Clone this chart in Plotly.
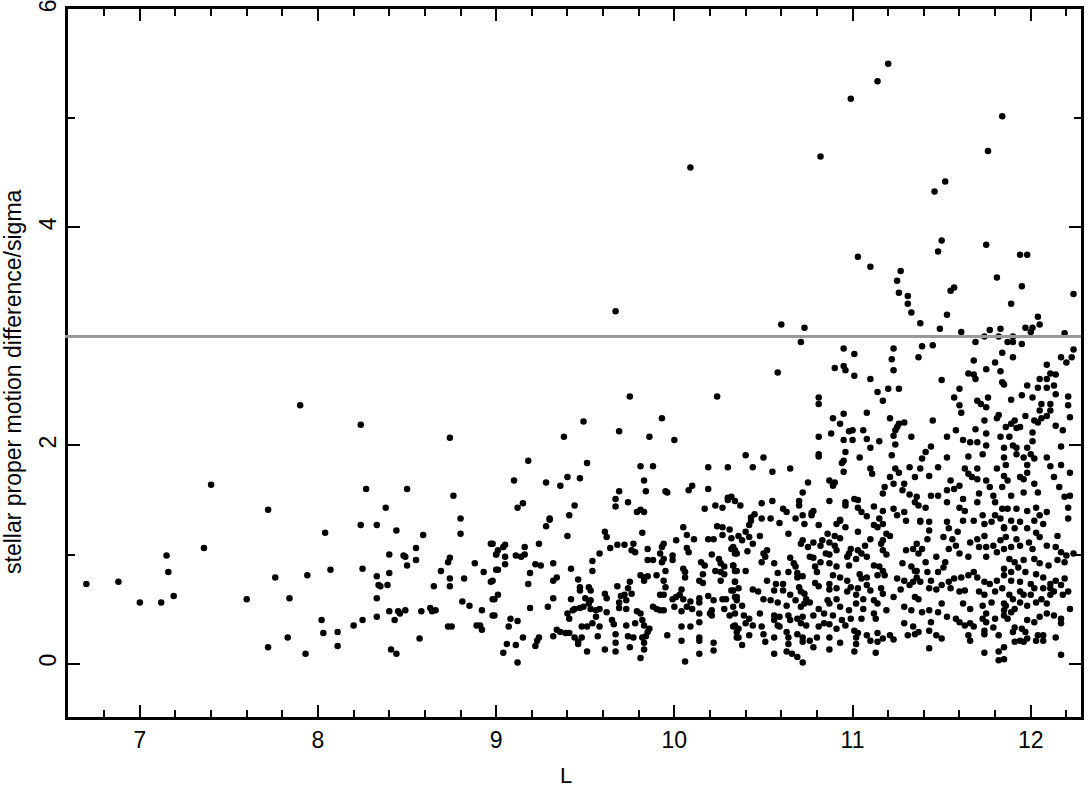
import plotly.graph_objects as go

# stars, grouped by region: (L, proper motion difference / sigma)
west = [
    (6.70, 0.73), (6.88, 0.75), (7.00, 0.56), (7.12, 0.56), (7.15, 0.99), (7.16, 0.84), (7.19, 0.62),
    (7.36, 1.06), (7.40, 1.64), (7.60, 0.59), (7.72, 1.41), (7.72, 0.15), (7.76, 0.79), (7.83, 0.24),
    (7.84, 0.60), (7.90, 2.37), (7.93, 0.09), (7.94, 0.81), (8.02, 0.40), (8.03, 0.28), (8.04, 1.20),
    (8.07, 0.86), (8.11, 0.16), (8.11, 0.29), (8.20, 0.35), (8.24, 2.19), (8.24, 1.27), (8.25, 0.87),
    (8.25, 0.40), (8.27, 1.60), (8.33, 1.27), (8.33, 0.60), (8.33, 0.43), (8.33, 0.80), (8.34, 0.72),
    (8.35, 0.71), (8.38, 1.43), (8.39, 0.72), (8.40, 1.00), (8.40, 0.83), (8.40, 0.48), (8.41, 0.13),
    (8.43, 0.40), (8.44, 1.22), (8.44, 0.09), (8.45, 0.48), (8.46, 0.46), (8.48, 0.99), (8.49, 0.98),
    (8.49, 0.49), (8.50, 1.60), (8.50, 0.90), (8.55, 1.06), (8.55, 0.95), (8.57, 0.23), (8.58, 0.48),
    (8.59, 1.18), (8.63, 0.51), (8.64, 0.48), (8.66, 0.49), (8.65, 0.71), (8.69, 0.85), (8.73, 0.34),
    (8.75, 0.34), (8.73, 0.93), (8.74, 0.97), (8.74, 0.78), (8.74, 0.71), (8.74, 2.07), (8.76, 1.54),
    (8.80, 1.19), (8.80, 1.33), (8.81, 0.57), (8.82, 0.78), (8.85, 0.53), (8.88, 0.92), (8.89, 0.35),
    (8.91, 0.35), (8.92, 0.31), (8.92, 0.49), (8.93, 0.84), (8.97, 1.10), (8.97, 0.75), (8.98, 0.59),
    (8.98, 0.44), (9.00, 0.86), (9.00, 1.00),
]

middle_upper = [
    (9.67, 3.23), (10.60, 3.11), (10.73, 3.08), (10.71, 2.95), (10.95, 2.89), (10.58, 2.67), (10.90, 2.71),
    (10.95, 2.73), (10.96, 2.69), (9.75, 2.45), (10.24, 2.45), (10.81, 2.44), (10.81, 2.38), (9.93, 2.25),
    (9.49, 2.22), (10.89, 2.25), (10.93, 2.20), (10.95, 2.29), (10.98, 2.13), (9.69, 2.13), (9.86, 2.08),
    (9.38, 2.08), (10.00, 2.05), (10.81, 2.08), (10.88, 2.11), (10.95, 2.05), (9.18, 1.86), (9.51, 1.84),
    (10.40, 1.91), (10.50, 1.89), (10.81, 1.90), (10.81, 1.92), (10.96, 1.94), (10.94, 1.84), (10.95, 1.86),
    (9.81, 1.81), (9.88, 1.81), (10.19, 1.80), (10.30, 1.80), (10.44, 1.80), (10.65, 1.79), (10.55, 1.76),
    (10.95, 1.76), (9.10, 1.68), (9.28, 1.66), (9.40, 1.71), (9.36, 1.63), (9.47, 1.70), (9.83, 1.68),
    (10.75, 1.66), (10.87, 1.68), (10.89, 1.65), (10.90, 1.66), (10.89, 1.63), (9.69, 1.58), (9.84, 1.58),
    (9.95, 1.58), (9.96, 1.57), (10.08, 1.59), (10.10, 1.63), (10.19, 1.60), (10.72, 1.57), (9.67, 1.51),
    (9.67, 1.44), (9.74, 1.48), (9.12, 1.43), (9.15, 1.47), (9.44, 1.45), (9.41, 1.36), (9.30, 1.33),
    (9.79, 1.39), (9.81, 1.41), (9.83, 1.39), (10.17, 1.42), (10.23, 1.45), (10.27, 1.43), (10.30, 1.52),
    (10.32, 1.53), (10.30, 1.50), (10.34, 1.49), (10.37, 1.45), (10.49, 1.47), (10.55, 1.49), (10.61, 1.42),
    (10.63, 1.39), (10.70, 1.49), (10.70, 1.45), (10.78, 1.40), (10.77, 1.38), (10.87, 1.49), (10.96, 1.45),
    (10.96, 1.48), (10.45, 1.37), (10.43, 1.34), (10.49, 1.33), (10.54, 1.33), (10.68, 1.33), (10.72, 1.36),
    (10.77, 1.36), (10.93, 1.32),
]

middle_lower = [
    (9.30, 1.32), (9.28, 1.26), (9.40, 1.17), (9.61, 1.21), (9.62, 1.16), (9.82, 1.20), (10.05, 1.25),
    (10.07, 1.18), (10.24, 1.26), (10.27, 1.25), (10.31, 1.23), (10.27, 1.18), (10.32, 1.15), (10.36, 1.17),
    (10.11, 1.14), (10.19, 1.14), (10.22, 1.14), (10.01, 1.13), (8.98, 1.10), (9.05, 1.09), (9.04, 1.07),
    (9.01, 1.04), (9.24, 1.10), (9.16, 1.07), (9.68, 1.09), (9.72, 1.09), (9.77, 1.10), (9.64, 1.06),
    (9.76, 1.04), (9.78, 1.02), (9.85, 1.05), (9.94, 1.10), (9.93, 1.07), (10.07, 1.06), (10.08, 1.02),
    (10.32, 1.05), (10.34, 1.04), (10.35, 1.01), (9.58, 1.01), (9.00, 1.00), (9.05, 0.98), (9.11, 0.99),
    (9.14, 0.98), (9.16, 1.00), (9.92, 1.01), (9.99, 0.99), (10.21, 1.00), (9.85, 0.95), (9.88, 0.95),
    (9.94, 0.96), (9.99, 0.95), (9.93, 0.93), (10.15, 0.93), (10.17, 0.90), (10.25, 0.96), (10.26, 0.92),
    (10.28, 0.89), (9.54, 0.94), (9.32, 0.92), (9.05, 0.91), (9.22, 0.91), (9.25, 0.90), (9.01, 0.86),
    (9.42, 0.87), (9.54, 0.85), (10.05, 0.87), (10.06, 0.84), (9.95, 0.85), (10.33, 0.90), (10.35, 0.85),
    (10.23, 0.85), (10.26, 0.84), (10.28, 0.82), (9.19, 0.83), (9.81, 0.81), (9.83, 0.79), (9.85, 0.80),
    (9.90, 0.81), (10.06, 0.79), (10.16, 0.82), (10.14, 0.76), (8.98, 0.76), (9.32, 0.76), (9.34, 0.79),
    (9.46, 0.77), (9.75, 0.75), (9.83, 0.76), (9.94, 0.76), (10.26, 0.76), (10.34, 0.75), (9.18, 0.73),
    (9.68, 0.71), (9.74, 0.69), (9.47, 0.70), (9.52, 0.70), (9.53, 0.67), (9.47, 0.67), (9.95, 0.70),
    (10.04, 0.68), (10.16, 0.74), (10.32, 0.67), (10.36, 0.69), (9.01, 0.63), (8.99, 0.59), (9.32, 0.60),
    (9.42, 0.59), (9.50, 0.60), (9.53, 0.58), (9.61, 0.64), (9.62, 0.60), (9.70, 0.62), (9.72, 0.63),
    (9.76, 0.64), (9.69, 0.56), (9.73, 0.58), (9.92, 0.63), (9.94, 0.63), (9.99, 0.59), (10.01, 0.61),
    (10.03, 0.63), (10.05, 0.59), (10.09, 0.57), (10.14, 0.60), (10.14, 0.56), (10.19, 0.62), (10.22, 0.58),
    (10.27, 0.59), (10.29, 0.59), (10.34, 0.61), (10.35, 0.58), (9.19, 0.51), (9.29, 0.52), (9.44, 0.50),
    (9.47, 0.51), (9.49, 0.52), (9.52, 0.55), (9.53, 0.50), (9.56, 0.49), (9.58, 0.50), (9.62, 0.47),
    (9.69, 0.51), (9.73, 0.50), (9.79, 0.48), (9.88, 0.52), (9.90, 0.50), (9.92, 0.49), (9.94, 0.49),
    (10.00, 0.52), (10.04, 0.48), (10.07, 0.52), (10.10, 0.50), (10.14, 0.46), (10.20, 0.46), (10.21, 0.49),
    (10.28, 0.50), (10.31, 0.44), (8.99, 0.44), (9.08, 0.41), (9.12, 0.39), (9.40, 0.46), (9.41, 0.41),
    (9.43, 0.49), (9.56, 0.43), (9.65, 0.40), (9.66, 0.36), (9.81, 0.46), (9.82, 0.40), (9.73, 0.35),
    (9.78, 0.37), (9.83, 0.35), (9.54, 0.37), (9.48, 0.34), (9.51, 0.34), (9.58, 0.34), (10.04, 0.34),
    (10.09, 0.34), (10.14, 0.38), (10.21, 0.44), (10.34, 0.35), (10.36, 0.32), (9.07, 0.34), (9.34, 0.31),
    (9.36, 0.29), (9.39, 0.28), (9.41, 0.28), (9.86, 0.32), (9.85, 0.29), (9.15, 0.24), (9.24, 0.24),
    (9.23, 0.21), (9.32, 0.25), (9.44, 0.24), (9.46, 0.20), (9.48, 0.24), (9.46, 0.18), (9.57, 0.25),
    (9.67, 0.27), (9.74, 0.25), (9.77, 0.24), (9.82, 0.24), (9.84, 0.25), (9.96, 0.26), (10.04, 0.21),
    (10.14, 0.24), (10.35, 0.24), (9.06, 0.18), (9.11, 0.17), (9.22, 0.16), (9.67, 0.19), (9.75, 0.15),
    (9.83, 0.19), (9.61, 0.13), (9.67, 0.11), (9.83, 0.13), (10.14, 0.21), (10.22, 0.19), (10.22, 0.12),
    (9.04, 0.10), (9.51, 0.11), (9.81, 0.05), (10.14, 0.09), (9.12, 0.01), (10.06, 0.02),
]

centre_lower = [
    (11.03, 1.43), (11.05, 1.39), (11.12, 1.44), (11.17, 1.40), (11.23, 1.42), (11.29, 1.39), (11.25, 1.36),
    (11.35, 1.48), (11.37, 1.45), (11.08, 1.35), (11.15, 1.33), (11.30, 1.31), (10.43, 1.31), (10.93, 1.31),
    (10.42, 1.27), (10.40, 1.21), (10.42, 1.16), (10.48, 1.17), (10.59, 1.29), (10.64, 1.19), (10.73, 1.28),
    (10.81, 1.27), (10.91, 1.28), (10.96, 1.25), (11.03, 1.21), (11.12, 1.27), (11.14, 1.25), (11.17, 1.28),
    (11.19, 1.19), (11.21, 1.17), (11.38, 1.30), (10.86, 1.19), (10.90, 1.17), (10.93, 1.15), (10.72, 1.13),
    (10.71, 1.10), (10.38, 1.13), (10.44, 1.10), (10.78, 1.11), (10.83, 1.13), (10.87, 1.11), (11.10, 1.14),
    (11.17, 1.13), (10.33, 1.07), (10.34, 1.01), (10.41, 1.03), (10.50, 1.01), (10.52, 1.04), (10.51, 0.98),
    (10.75, 1.07), (10.82, 1.08), (10.90, 1.08), (10.91, 1.04), (10.85, 1.01), (10.87, 1.00), (10.78, 0.97),
    (10.99, 1.05), (10.98, 1.01), (11.03, 1.04), (11.05, 1.01), (11.07, 1.08), (11.08, 0.98), (11.16, 1.10),
    (11.17, 1.04), (11.19, 1.00), (11.30, 1.04), (11.34, 1.05), (11.37, 1.01), (10.49, 0.93), (10.56, 0.92),
    (10.65, 0.97), (10.76, 0.98), (10.97, 0.98), (11.02, 0.96), (10.33, 0.90), (10.34, 0.85), (10.40, 0.85),
    (10.67, 0.92), (10.68, 0.89), (10.82, 0.93), (10.79, 0.89), (10.87, 0.92), (10.91, 0.89), (10.98, 0.90),
    (11.12, 0.90), (11.15, 0.89), (11.17, 0.85), (11.28, 0.92), (11.33, 0.89), (11.35, 0.85), (11.36, 0.79),
    (10.58, 0.83), (10.64, 0.84), (10.69, 0.83), (10.69, 0.79), (10.72, 0.80), (10.80, 0.84), (10.89, 0.81),
    (10.93, 0.79), (10.97, 0.76), (11.04, 0.82), (11.05, 0.78), (11.08, 0.79), (11.14, 0.81), (11.18, 0.81),
    (11.25, 0.78), (11.29, 0.76), (11.34, 0.75), (10.34, 0.75), (10.52, 0.76), (10.57, 0.73), (10.61, 0.73),
    (10.33, 0.67), (10.44, 0.68), (10.47, 0.66), (10.56, 0.67), (10.61, 0.67), (10.70, 0.70), (10.71, 0.66),
    (10.73, 0.64), (10.79, 0.74), (10.81, 0.71), (10.87, 0.73), (10.87, 0.68), (10.91, 0.69), (10.97, 0.66),
    (10.99, 0.70), (11.03, 0.69), (11.08, 0.72), (11.10, 0.67), (11.16, 0.69), (11.17, 0.64), (11.23, 0.61),
    (11.27, 0.68), (11.32, 0.72), (11.35, 0.61), (10.35, 0.61), (10.50, 0.59), (10.54, 0.58), (10.65, 0.63),
    (10.68, 0.58), (10.74, 0.59), (10.76, 0.56), (10.86, 0.58), (10.91, 0.59), (11.02, 0.63), (11.06, 0.59),
    (11.12, 0.58), (11.14, 0.55), (10.33, 0.52), (10.38, 0.53), (10.34, 0.46), (10.58, 0.56), (10.63, 0.53),
    (10.71, 0.52), (10.73, 0.55), (10.81, 0.50), (10.87, 0.55), (10.93, 0.52), (10.98, 0.49), (11.02, 0.55),
    (11.06, 0.50), (11.12, 0.46), (11.19, 0.49), (11.29, 0.52), (11.33, 0.49), (10.39, 0.44), (10.42, 0.41),
    (10.48, 0.46), (10.56, 0.44), (10.59, 0.43), (10.64, 0.44), (10.65, 0.40), (10.69, 0.41), (10.72, 0.43),
    (10.78, 0.44), (10.84, 0.46), (10.89, 0.44), (10.94, 0.40), (10.99, 0.41), (11.05, 0.41), (11.13, 0.41),
    (10.33, 0.34), (10.35, 0.29), (10.40, 0.37), (10.44, 0.35), (10.49, 0.34), (10.56, 0.40), (10.58, 0.35),
    (10.59, 0.34), (10.63, 0.29), (10.71, 0.37), (10.74, 0.35), (10.81, 0.34), (10.84, 0.37), (10.87, 0.36),
    (10.91, 0.32), (10.96, 0.35), (11.01, 0.30), (11.03, 0.28), (11.08, 0.26), (11.14, 0.28), (11.21, 0.26),
    (11.29, 0.37), (11.34, 0.34), (11.35, 0.27), (11.31, 0.26), (10.36, 0.24), (10.42, 0.26), (10.50, 0.27),
    (10.56, 0.24), (10.64, 0.24), (10.69, 0.27), (10.72, 0.24), (10.76, 0.21), (10.80, 0.24), (10.87, 0.24),
    (11.02, 0.24), (11.10, 0.21), (11.17, 0.23), (11.23, 0.22), (10.38, 0.17), (10.51, 0.20), (10.64, 0.18),
    (10.72, 0.20), (10.78, 0.15), (10.87, 0.13), (10.93, 0.19), (11.02, 0.18), (11.14, 0.20), (10.56, 0.09),
    (10.63, 0.11), (10.66, 0.09), (10.69, 0.06), (11.01, 0.11), (11.13, 0.10), (10.72, 0.01),
]

east_upper = [
    (11.01, 2.84), (11.23, 2.89), (11.39, 2.91), (11.45, 2.92), (11.69, 2.95), (11.87, 2.95), (11.90, 2.95),
    (11.95, 2.93), (11.22, 2.79), (11.37, 2.81), (11.68, 2.78), (11.80, 2.76), (11.84, 2.85), (11.90, 2.81),
    (12.17, 2.81), (12.20, 2.76), (12.23, 2.81), (12.24, 2.88), (11.23, 2.69), (11.01, 2.64), (11.10, 2.61),
    (11.50, 2.60), (11.65, 2.66), (11.68, 2.65), (11.69, 2.61), (11.75, 2.70), (11.83, 2.68), (11.84, 2.58),
    (11.85, 2.56), (12.09, 2.74), (12.05, 2.61), (12.09, 2.61), (12.11, 2.66), (12.14, 2.65), (11.14, 2.49),
    (11.20, 2.52), (11.26, 2.52), (11.17, 2.41), (11.60, 2.52), (11.57, 2.44), (11.70, 2.41), (11.72, 2.38),
    (11.75, 2.35), (11.76, 2.44), (11.89, 2.42), (11.95, 2.46), (12.01, 2.44), (11.98, 2.55), (12.04, 2.53),
    (12.09, 2.53), (12.13, 2.55), (12.14, 2.47), (12.21, 2.45), (12.21, 2.37), (12.06, 2.38), (12.11, 2.38),
    (12.05, 2.32), (12.11, 2.32), (12.09, 2.27), (11.08, 2.30), (11.60, 2.37), (11.61, 2.30), (11.82, 2.28),
    (11.81, 2.25), (11.21, 2.25), (11.26, 2.20), (11.29, 2.21), (11.25, 2.17), (11.24, 2.14), (11.45, 2.23),
    (11.74, 2.23), (11.86, 2.17), (11.89, 2.20), (11.91, 2.23), (11.92, 2.16), (11.94, 2.17), (11.97, 2.27),
    (12.02, 2.23), (12.04, 2.21), (12.06, 2.25), (12.14, 2.18), (12.18, 2.14), (12.22, 2.26), (11.00, 2.14),
    (11.06, 2.14), (11.00, 2.05), (11.08, 2.06), (11.10, 1.98), (11.15, 2.04), (11.23, 2.09), (11.24, 2.01),
    (11.33, 2.08), (11.53, 2.08), (11.58, 2.14), (11.69, 2.15), (11.75, 2.11), (11.62, 2.05), (11.66, 2.03),
    (11.70, 2.03), (11.75, 2.00), (11.83, 2.08), (11.88, 2.08), (12.01, 2.12), (12.01, 2.04), (11.85, 1.98),
    (11.90, 2.00), (11.92, 1.98), (11.98, 1.98), (12.00, 1.92), (12.17, 1.99), (11.04, 1.89), (11.22, 1.91),
    (11.44, 1.99), (11.41, 1.94), (11.39, 1.88), (11.53, 1.89), (11.65, 1.90), (11.73, 1.92), (11.85, 1.89),
    (11.92, 1.92), (11.96, 1.89), (12.02, 1.88), (12.09, 1.89), (11.86, 1.82), (11.10, 1.79), (11.11, 1.74),
    (11.24, 1.79), (11.26, 1.75), (11.32, 1.80), (11.38, 1.79), (11.35, 1.71), (11.48, 1.80), (11.43, 1.72),
    (11.63, 1.79), (11.70, 1.79), (11.81, 1.79), (11.98, 1.82), (11.98, 1.75), (12.11, 1.81), (12.17, 1.82),
    (12.22, 1.75), (11.21, 1.71), (11.18, 1.62), (11.23, 1.65), (11.29, 1.65), (11.32, 1.55), (11.17, 1.56),
    (11.28, 1.59), (11.44, 1.54), (11.48, 1.54), (11.36, 1.53), (11.55, 1.68), (11.57, 1.60), (11.53, 1.59),
    (11.60, 1.63), (11.65, 1.74), (11.67, 1.71), (11.70, 1.69), (11.75, 1.68), (11.77, 1.62), (11.85, 1.72),
    (11.87, 1.68), (11.84, 1.62), (11.94, 1.71), (11.96, 1.69), (11.96, 1.57), (12.02, 1.65), (12.04, 1.57),
    (12.13, 1.71), (12.16, 1.62), (12.19, 1.53), (12.22, 1.54), (11.01, 1.51), (11.03, 1.50), (11.71, 1.56),
    (11.79, 1.54), (11.89, 1.54), (11.62, 1.51),
]

east_lower = [
    (11.53, 1.48), (11.60, 1.43), (11.63, 1.40), (11.70, 1.48), (11.80, 1.48), (11.84, 1.42), (11.41, 1.43),
    (11.38, 1.31), (11.43, 1.30), (11.43, 1.22), (11.53, 1.30), (11.54, 1.24), (11.59, 1.21), (11.62, 1.31),
    (11.68, 1.31), (11.73, 1.36), (11.74, 1.28), (11.78, 1.30), (11.80, 1.36), (11.83, 1.33), (11.85, 1.24),
    (11.51, 1.16), (11.56, 1.14), (11.58, 1.08), (11.66, 1.11), (11.70, 1.14), (11.74, 1.17), (11.75, 1.07),
    (11.79, 1.08), (11.83, 1.13), (11.36, 1.10), (11.39, 1.05), (11.42, 1.14), (11.54, 1.05), (11.60, 1.01),
    (11.65, 0.98), (11.71, 1.07), (11.75, 0.98), (11.81, 1.02), (11.47, 0.98), (11.52, 0.93), (11.51, 0.88),
    (11.41, 0.93), (11.42, 0.84), (11.36, 0.85), (11.38, 0.75), (11.44, 0.76), (11.48, 0.84), (11.43, 0.69),
    (11.47, 0.68), (11.54, 0.75), (11.57, 0.78), (11.61, 0.79), (11.65, 0.81), (11.68, 0.84), (11.70, 0.79),
    (11.74, 0.75), (11.77, 0.73), (11.81, 0.76), (11.85, 0.81), (11.37, 0.59), (11.50, 0.72), (11.55, 0.69),
    (11.60, 0.66), (11.63, 0.67), (11.71, 0.66), (11.74, 0.63), (11.80, 0.66), (11.84, 0.69), (11.50, 0.55),
    (11.62, 0.55), (11.66, 0.50), (11.73, 0.53), (11.75, 0.46), (11.78, 0.56), (11.85, 0.55), (11.39, 0.47),
    (11.43, 0.49), (11.48, 0.47), (11.53, 0.43), (11.58, 0.41), (11.60, 0.38), (11.66, 0.37), (11.73, 0.41),
    (11.75, 0.38), (11.80, 0.41), (11.85, 0.44), (11.44, 0.38), (11.37, 0.29), (11.43, 0.30), (11.47, 0.26),
    (11.50, 0.23), (11.63, 0.35), (11.68, 0.34), (11.74, 0.30), (11.79, 0.33), (11.65, 0.26), (11.66, 0.21),
    (11.74, 0.27), (11.82, 0.26), (11.43, 0.14), (11.74, 0.10), (11.82, 0.11), (11.82, 0.03),
]

far_east = [
    (12.21, 1.43), (11.87, 1.42), (11.92, 1.42), (11.98, 1.40), (12.03, 1.43), (12.05, 1.36), (12.09, 1.39),
    (12.21, 1.33), (12.07, 1.28), (12.02, 1.31), (11.94, 1.30), (11.89, 1.31), (11.85, 1.25), (11.91, 1.24),
    (11.98, 1.24), (12.03, 1.20), (12.05, 1.16), (12.15, 1.17), (11.86, 1.16), (11.92, 1.14), (11.99, 1.11),
    (11.85, 1.05), (11.89, 1.07), (11.94, 1.08), (12.01, 1.05), (12.09, 1.08), (12.14, 1.07), (12.17, 1.02),
    (12.20, 0.99), (12.24, 1.01), (11.88, 0.96), (11.91, 0.93), (11.96, 0.95), (11.93, 0.88), (12.02, 0.96),
    (12.05, 0.92), (12.10, 0.90), (12.15, 0.95), (12.19, 0.93), (11.85, 0.87), (11.89, 0.84), (11.97, 0.84),
    (12.03, 0.82), (12.07, 0.79), (12.11, 0.73), (12.14, 0.76), (11.89, 0.76), (11.94, 0.75), (12.00, 0.73),
    (12.02, 0.69), (12.19, 0.78), (12.17, 0.72), (12.11, 0.69), (12.07, 0.69), (11.94, 0.66), (11.96, 0.63),
    (12.00, 0.63), (11.88, 0.63), (11.90, 0.59), (11.86, 0.53), (11.85, 0.49), (11.89, 0.47), (11.91, 0.50),
    (11.94, 0.56), (11.98, 0.53), (12.03, 0.56), (12.06, 0.59), (12.09, 0.55), (12.11, 0.63), (12.13, 0.66),
    (12.18, 0.63), (12.21, 0.66), (12.22, 0.50), (12.09, 0.46), (12.13, 0.44), (12.17, 0.41), (12.17, 0.37),
    (11.98, 0.40), (12.02, 0.38), (12.05, 0.43), (11.87, 0.41), (11.91, 0.33), (11.90, 0.29), (11.95, 0.32),
    (11.97, 0.29), (11.91, 0.20), (11.94, 0.21), (11.96, 0.20), (11.98, 0.23), (12.03, 0.21), (12.04, 0.26),
    (12.07, 0.21), (12.07, 0.26), (12.14, 0.24), (11.85, 0.15), (11.85, 0.04), (12.17, 0.08),
]

high_outliers = [
    (11.20, 5.50), (11.14, 5.34), (10.99, 5.18), (11.84, 5.02), (11.76, 4.70), (11.52, 4.42), (11.46, 4.33),
    (11.50, 3.88), (11.48, 3.78), (11.75, 3.84), (11.03, 3.73), (11.10, 3.64), (11.94, 3.75), (11.98, 3.75),
    (11.27, 3.60), (11.25, 3.51), (11.81, 3.54), (11.95, 3.46), (11.26, 3.40), (11.31, 3.37), (11.55, 3.42),
    (11.57, 3.45), (11.31, 3.30), (11.33, 3.22), (11.89, 3.30), (12.24, 3.39), (11.53, 3.20), (11.38, 3.12),
    (11.49, 3.07), (11.61, 3.04), (11.77, 3.06), (11.83, 3.07), (12.04, 3.18), (12.05, 3.11), (11.97, 3.08),
    (12.01, 3.08), (12.00, 3.04), (12.19, 3.03), (11.74, 3.00), (11.82, 3.00), (11.90, 3.00),
    (10.09, 4.55), (10.82, 4.65),
]

threshold = 3.0

stars = west + middle_upper + middle_lower + centre_lower + east_upper + east_lower + far_east + high_outliers
L = [s[0] for s in stars]
ratio = [s[1] for s in stars]

font_family = 'Liberation Sans, Arial, sans-serif'

fig = go.Figure()
fig.add_trace(go.Scatter(
    x=L, y=ratio, mode='markers',
    marker=dict(color='black', size=6.5, line=dict(width=0)),
    showlegend=False, hoverinfo='skip',
))

fig.add_shape(type='line', xref='paper', yref='y', x0=-0.003, x1=1, y0=threshold, y1=threshold,
              line=dict(color='#999999', width=3))

axis_common = dict(
    showline=True, linecolor='black', linewidth=3, mirror='ticks',
    ticks='inside', ticklen=12, tickwidth=2, tickcolor='black',
    showgrid=False, zeroline=False, automargin=False, ticklabeloverflow='allow',
    tickfont=dict(family=font_family, size=23, color='black'),
)

fig.update_xaxes(range=[6.597, 12.282], dtick=1, tick0=0, ticklabelstandoff=0,
                 minor=dict(ticks='inside', dtick=0.2, tick0=0, ticklen=7, tickwidth=2, tickcolor='black'),
                 **axis_common)
fig.update_yaxes(range=[-0.49, 6.003], dtick=2, tick0=0, tickangle=-90,
                 minor=dict(ticks='inside', dtick=1, tick0=0, ticklen=7, tickwidth=2, tickcolor='black'),
                 **axis_common)

fig.add_annotation(text='stellar proper motion difference/sigma', textangle=-90,
                   xref='paper', yref='paper', x=-0.0537, y=0.474, showarrow=False,
                   xanchor='center', yanchor='middle',
                   font=dict(family=font_family, size=23, color='black'))
fig.add_annotation(text='L', xref='paper', yref='paper', x=0.492, y=-0.082, showarrow=False,
                   xanchor='center', yanchor='middle',
                   font=dict(family=font_family, size=22, color='black'))

fig.update_layout(
    width=1088, height=790,
    margin=dict(l=68, r=7, t=9, b=73),
    plot_bgcolor='white', paper_bgcolor='white',
)

fig.write_html("out.html", config={'displayModeBar': False},
               post_script="document.body.style.margin='0';")
